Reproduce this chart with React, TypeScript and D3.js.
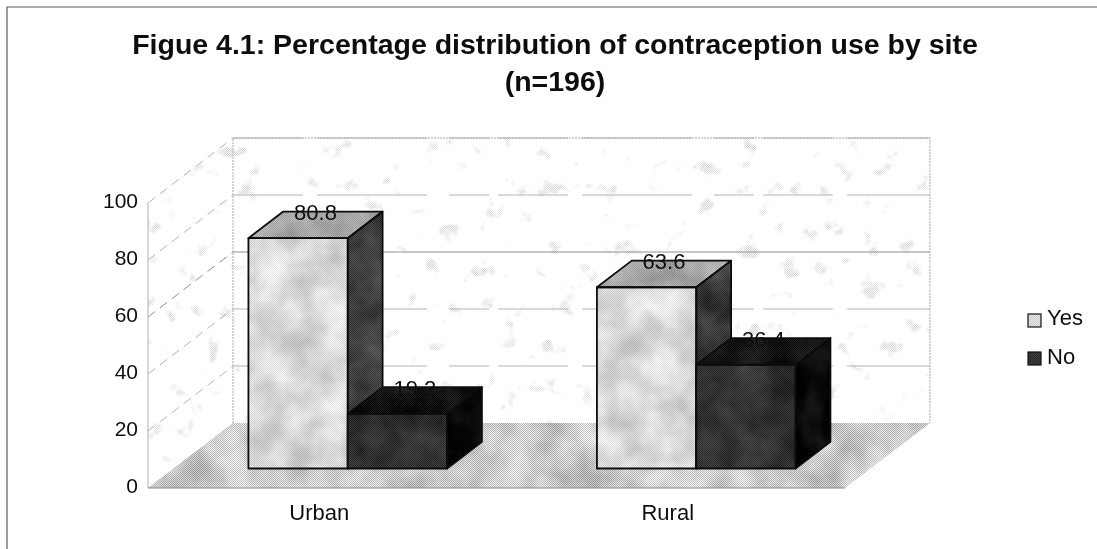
import React from "react";
import * as d3 from "d3";

const categories = ["Urban", "Rural"];
const seriesNames = ["Yes", "No"];
const yesValues = [80.8, 63.6];
const noValues = [19.2, 36.4];
const titleLines = ["Figue 4.1: Percentage distribution of contraception use by site", "(n=196)"];

const W = 1097, H = 549;
const FONT = "'Liberation Sans', Arial, sans-serif";
const x0 = 148, x1 = 845, yBottom = 488, yTop = 203, depthX = 85, depthY = 65;
const barFront = 0.3, barBack = 0.71;

const y = d3.scaleLinear().domain([0, 100]).range([yBottom, yTop]);
const xCat = d3.scaleBand<string>().domain(categories).range([x0, x1]).paddingInner(0.43).paddingOuter(0.215);
const xSer = d3.scaleBand<string>().domain(seriesNames).range([0, xCat.bandwidth()]);
const ticks = y.ticks(5);
const line = d3.line<[number, number]>();
const poly = (pts: [number, number][]) => line(pts) + "Z";
const P = (x: number, v: number, d: number): [number, number] => [x + depthX * d, y(v) - depthY * d];

const seriesValues = [yesValues, noValues];
const mats = [
  { front: "url(#pYesF)", top: "url(#pYesT)", side: "url(#pYesS)", noise: "url(#mottleLight)" },
  { front: "url(#pNoF)", top: "url(#pNoT)", side: "url(#pNoS)", noise: "url(#mottleDark)" },
];

function Dither({ id, base, dot }: { id: string; base: string; dot: string }) {
  return (
    <pattern id={id} patternUnits="userSpaceOnUse" width={2} height={2}>
      <rect width={2} height={2} fill={base} />
      <rect width={1} height={1} fill={dot} />
      <rect x={1} y={1} width={1} height={1} fill={dot} />
    </pattern>
  );
}

function Bar({ c, si }: { c: string; si: number }) {
  const s = seriesNames[si];
  const v = seriesValues[si][categories.indexOf(c)];
  const a = xCat(c)! + xSer(s)!;
  const b = a + xSer.bandwidth();
  const m = mats[si];
  const front = poly([P(a, 0, barFront), P(b, 0, barFront), P(b, v, barFront), P(a, v, barFront)]);
  const top = poly([P(a, v, barFront), P(b, v, barFront), P(b, v, barBack), P(a, v, barBack)]);
  const side = poly([P(b, 0, barFront), P(b, 0, barBack), P(b, v, barBack), P(b, v, barFront)]);
  return (
    <g>
      <path d={side} fill={m.side} filter={m.noise} />
      <path d={top} fill={m.top} filter={m.noise} />
      <path d={front} fill={m.front} filter={m.noise} />
      {[side, top, front].map((d, i) => (
        <path key={i} d={d} fill="none" stroke="#0c0c0c" strokeWidth={1.8} strokeLinejoin="round" />
      ))}
    </g>
  );
}

export default function App() {
  const floor = poly([P(x0, 0, 0), P(x1, 0, 0), P(x1, 0, 1), P(x0, 0, 1)]);
  const back = poly([P(x0, 0, 1), P(x1, 0, 1), P(x1, 100, 1), P(x0, 100, 1)]);
  const left = poly([P(x0, 0, 0), P(x0, 0, 1), P(x0, 100, 1), P(x0, 100, 0)]);
  const midDepth = (barFront + barBack) / 2;
  return (
    <svg width={W} height={H} viewBox={`0 0 ${W} ${H}`} style={{ position: "absolute", left: 0, top: 0, background: "#fff", display: "block" }}>
      <defs>
        <Dither id="pFloor" base="#e2e2e2" dot="#b2b2b2" />
        <Dither id="pYesF" base="#e8e8e8" dot="#cacaca" />
        <Dither id="pYesT" base="#b6b6b6" dot="#9a9a9a" />
        <Dither id="pYesS" base="#4c4c4c" dot="#2c2c2c" />
        <Dither id="pNoF" base="#404040" dot="#262626" />
        <Dither id="pNoT" base="#1c1c1c" dot="#060606" />
        <Dither id="pNoS" base="#060606" dot="#000" />
        <Dither id="pSpeck" base="#fff" dot="#d0d0d0" />
        <filter id="mottleLight" x="0" y="0" width="1" height="1" colorInterpolationFilters="sRGB">
          <feTurbulence type="fractalNoise" baseFrequency="0.028" numOctaves={3} seed={4} result="n" />
          <feColorMatrix in="n" type="matrix" values="0 0 0 1.6 -0.3  0 0 0 1.6 -0.3  0 0 0 1.6 -0.3  0 0 0 0 1" result="g" />
          <feComposite in="SourceGraphic" in2="g" operator="arithmetic" k1={0} k2={1} k3={0.2} k4={-0.1} result="c" />
          <feComposite in="c" in2="SourceAlpha" operator="in" />
        </filter>
        <filter id="mottleDark" x="0" y="0" width="1" height="1" colorInterpolationFilters="sRGB">
          <feTurbulence type="fractalNoise" baseFrequency="0.03" numOctaves={3} seed={9} result="n" />
          <feColorMatrix in="n" type="matrix" values="0 0 0 1.6 -0.3  0 0 0 1.6 -0.3  0 0 0 1.6 -0.3  0 0 0 0 1" result="g" />
          <feComposite in="SourceGraphic" in2="g" operator="arithmetic" k1={0} k2={1} k3={0.14} k4={-0.07} result="c" />
          <feComposite in="c" in2="SourceAlpha" operator="in" />
        </filter>
        <filter id="threshold" x="0" y="0" width="1" height="1" colorInterpolationFilters="sRGB">
          <feTurbulence type="fractalNoise" baseFrequency="0.05" numOctaves={3} seed={12} />
          <feColorMatrix type="matrix" values="0 0 0 0 1  0 0 0 0 1  0 0 0 0 1  0 0 0 7 -4.6" />
        </filter>
        <mask id="speckMask" maskUnits="userSpaceOnUse" x={0} y={0} width={W} height={H}>
          <rect x={0} y={0} width={W} height={H} filter="url(#threshold)" />
        </mask>
        <filter id="soft" x="-2%" y="-20%" width="104%" height="140%">
          <feGaussianBlur stdDeviation={0.4} />
        </filter>
      </defs>

      <path d={`M7,${H}V7H${W}`} fill="none" stroke="#5a5a5a" strokeWidth={1.2} />

      <g mask="url(#speckMask)">
        <path d={back} fill="url(#pSpeck)" />
        <path d={left} fill="url(#pSpeck)" />
      </g>

      <path d={floor} fill="url(#pFloor)" filter="url(#mottleLight)" />

      {ticks.filter((t) => t > 0).map((t) => (
        <g key={t} fill="none" stroke={t === 60 ? "#8f8f8f" : "#b4b4b4"} strokeWidth={1} strokeDasharray={t === 60 ? undefined : "70 14 110 22 40 9"}>
          <path d={line([P(x0, t, 1), P(x1, t, 1)])!} />
          <path d={line([P(x0, t, 0), P(x0, t, 1)])!} strokeDasharray="9 6" />
        </g>
      ))}
      <g fill="none" stroke="#a8a8a8" strokeWidth={1}>
        <path d={line([P(x0, 0, 1), P(x0, 100, 1), P(x1, 100, 1), P(x1, 0, 1)])!} strokeDasharray="2 1" />
        <path d={line([P(x0, 0, 0), P(x0, 100, 0)])!} stroke="#b0b0b0" />
        <path d={line([P(x0, 0, 0), P(x1, 0, 0)])!} stroke="#8a8a8a" />
      </g>

      {categories.map((c) => (
        <g key={c}>
          {seriesNames.map((s, si) => <Bar key={s} c={c} si={si} />)}
        </g>
      ))}

      <g filter="url(#soft)" fontFamily={FONT} fill="#111">
        {titleLines.map((t, i) => (
          <text key={i} x={555} y={54 + i * 37} textAnchor="middle" fontWeight="bold" fontSize={28.5}>{t}</text>
        ))}
        {ticks.map((t) => (
          <text key={t} x={138} y={y(t) - 0.5} textAnchor="end" dominantBaseline="middle" fontSize={21}>{t}</text>
        ))}
        {categories.map((c) => (
          <text key={c} x={xCat(c)! + xCat.bandwidth() / 2 - 3} y={520} textAnchor="middle" fontSize={22}>{c}</text>
        ))}
        {categories.map((c, ci) => seriesNames.map((s, si) => {
          const v = seriesValues[si][ci];
          const xc = xCat(c)! + xSer(s)! + xSer.bandwidth() / 2;
          const lx = P(xc, v, midDepth)[0];
          const ly = P(xc, v, barBack)[1] + 3;
          return <text key={c + s} x={lx} y={ly} textAnchor="middle" dominantBaseline="middle" fontSize={22}>{v}</text>;
        }))}
        {seriesNames.map((s, si) => (
          <text key={s} x={1047} y={319 + si * 39} dominantBaseline="middle" fontSize={22}>{s}</text>
        ))}
      </g>
      {seriesNames.map((s, si) => (
        <rect key={s} x={1028} y={314 + si * 38} width={13} height={13} fill={si === 0 ? "url(#pYesF)" : "url(#pNoF)"} stroke="#111" strokeWidth={1.2} />
      ))}
    </svg>
  );
}
